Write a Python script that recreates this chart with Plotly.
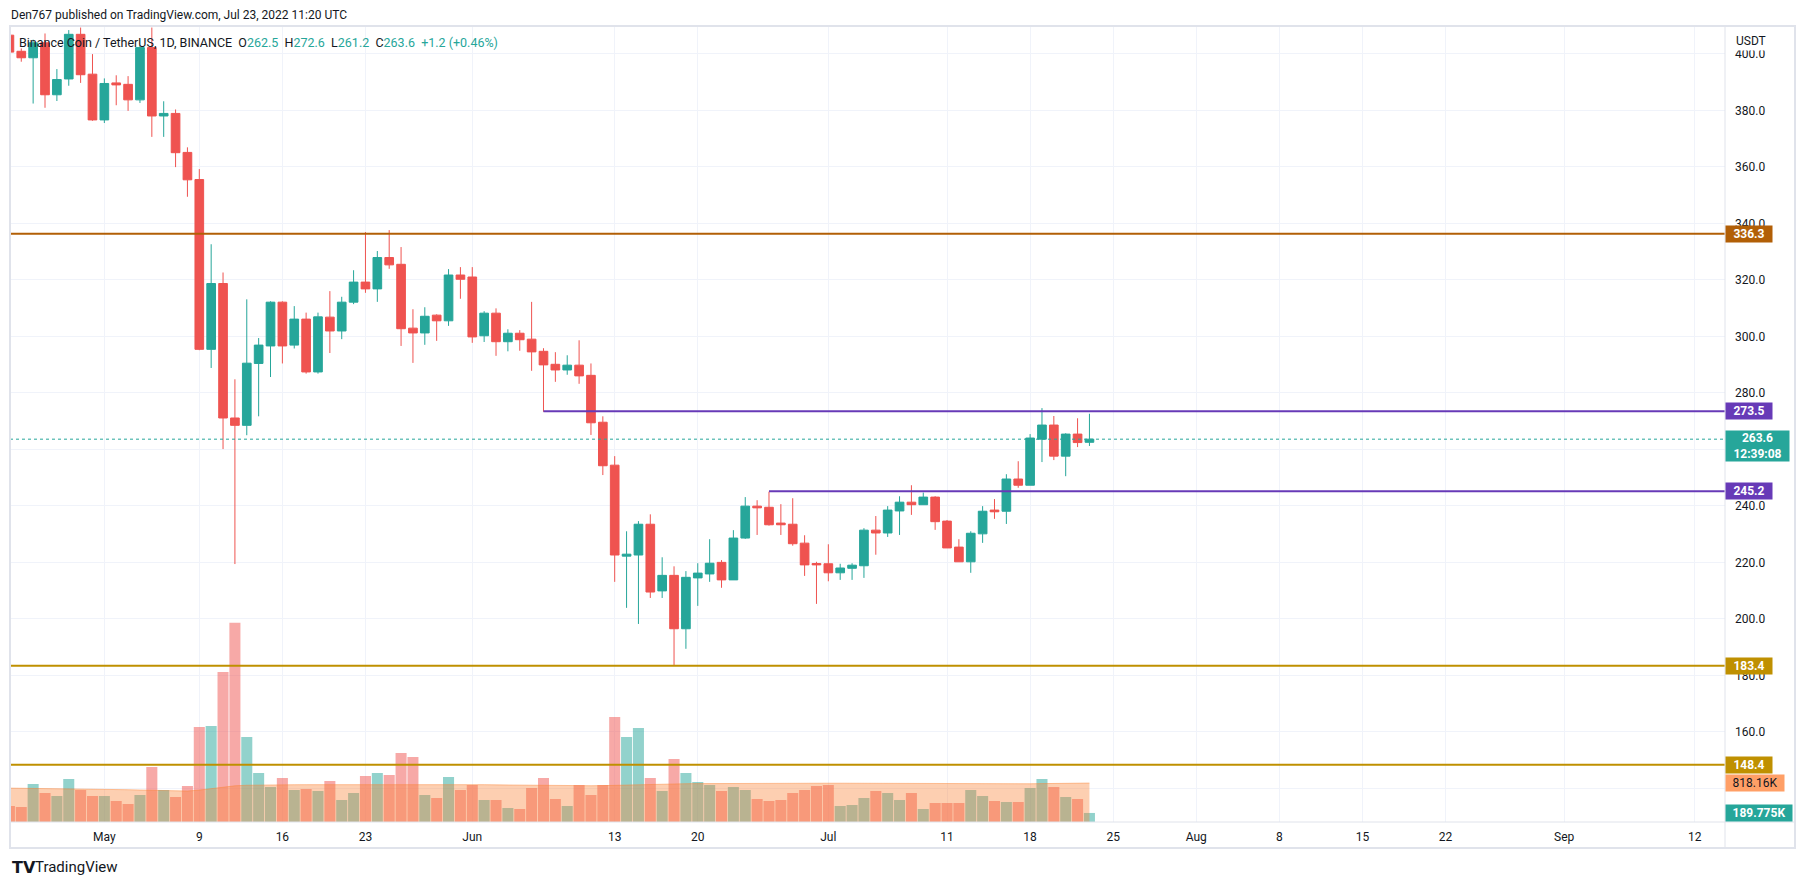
import pandas as pd
import plotly.graph_objects as go

# daily candles, 2022-04-23 .. 2022-07-23 (BNB/USDT, 1D)
dates = pd.date_range("2022-04-23", "2022-07-23", freq="D")

opens = [
    406.6, 400.9, 398.6, 403.9, 385.5, 391.1, 406.9, 392.8,
    376.6, 389.7, 389.2, 383.7, 402.2, 378.0, 378.9, 365.1,
    355.5, 295.4, 318.7, 271.1, 268.5, 290.4, 296.6, 312.1,
    296.9, 306.1, 287.4, 306.8, 301.9, 312.1, 319.2, 316.8,
    327.9, 325.5, 302.9, 301.2, 307.5, 305.5, 321.7,
    321.0, 300.2, 308.2, 298.1, 301.1, 299.0, 294.7, 290.1,
    288.1, 289.8, 286.2, 269.6, 254.4, 222.2, 222.6, 233.5,
    209.9, 215.4, 196.5, 214.5, 215.9, 220.0, 213.8, 228.6,
    239.9, 239.5, 233.9, 233.5, 226.8, 219.6,
    219.5, 216.3, 217.9, 218.8, 231.4, 230.4, 238.2, 241.3,
    240.4, 243.1, 234.6, 225.4, 220.2, 230.1, 238.5, 238.1,
    249.5, 247.3, 263.6, 268.6, 257.6, 265.4, 262.5,
]
highs = [
    410.0, 401.9, 405.0, 407.2, 394.6, 408.4, 409.3, 399.9,
    391.3, 392.4, 392.1, 403.0, 409.3, 383.2, 380.3, 366.9,
    359.2, 332.6, 322.6, 284.8, 313.1, 299.4, 312.4, 312.4,
    310.7, 308.4, 308.4, 316.0, 314.0, 323.4, 336.9, 330.2,
    337.6, 331.6, 309.6, 310.3, 307.8, 323.8, 324.5,
    324.5, 308.9, 309.9, 302.5, 302.2, 312.2, 295.8, 294.4,
    293.3, 298.6, 290.4, 271.7, 257.6, 231.0, 234.6, 237.0,
    221.8, 218.6, 216.9, 219.7, 228.2, 220.8, 231.4, 243.1,
    242.0, 245.0, 240.6, 242.7, 229.6, 220.2,
    226.4, 219.5, 219.7, 232.1, 236.4, 239.9, 243.4, 247.3,
    244.7, 243.4, 235.0, 228.2, 231.0, 239.9, 242.4, 251.2,
    255.8, 265.4, 274.6, 271.8, 265.7, 271.0, 272.6,
]
lows = [
    399.5, 397.2, 382.4, 380.9, 383.3, 388.7, 389.7, 376.3,
    375.5, 381.8, 379.8, 382.6, 370.6, 370.6, 359.9, 349.4,
    295.1, 288.8, 260.1, 219.4, 265.0, 271.7, 285.6, 290.4,
    295.7, 286.8, 286.8, 294.1, 299.0, 311.4, 315.4, 312.2,
    323.9, 296.6, 290.6, 297.0, 298.4, 303.7, 313.3,
    297.7, 298.0, 293.1, 294.7, 294.9, 287.8, 273.3, 283.9,
    286.4, 283.2, 265.1, 250.9, 213.1, 203.9, 198.2, 207.4,
    207.4, 183.6, 189.4, 204.6, 213.1, 211.0, 213.8, 228.3,
    229.7, 233.0, 229.7, 225.9, 215.2, 205.3,
    213.3, 213.8, 213.8, 214.5, 222.7, 229.0, 229.7, 236.8,
    240.4, 231.5, 225.1, 220.2, 216.3, 226.9, 235.4, 233.6,
    246.4, 247.3, 255.5, 256.2, 250.5, 260.8, 261.2,
]
closes = [
    400.6, 398.6, 403.9, 385.5, 390.9, 406.9, 392.6, 376.6,
    389.5, 389.0, 383.7, 402.2, 378.0, 378.9, 365.0, 355.4,
    295.4, 318.7, 271.1, 268.5, 290.5, 296.9, 312.1, 296.6,
    306.1, 287.4, 306.9, 301.9, 312.1, 319.2, 316.8, 327.9,
    325.3, 302.7, 301.2, 307.1, 305.5, 321.7, 320.2,
    299.8, 308.2, 298.1, 301.1, 298.8, 294.5, 289.9, 288.1,
    289.8, 286.0, 269.4, 254.2, 222.6, 222.9, 233.5, 209.5,
    215.4, 196.5, 214.7, 216.2, 219.7, 213.8, 228.6, 239.9,
    239.3, 233.3, 233.3, 226.6, 219.1, 219.1,
    216.3, 218.0, 219.0, 231.4, 230.4, 238.5, 241.3, 240.4,
    243.1, 234.4, 225.1, 220.2, 230.3, 238.1, 237.9, 249.5,
    247.3, 264.0, 268.6, 257.6, 265.4, 262.4, 263.6,
]
# volume in thousands of BNB
volume = [
    336, 315, 798, 609, 546, 903, 672, 546,
    546, 441, 378, 567, 1155, 672, 525, 756,
    1995, 2016, 3150, 4186, 1785, 1029, 735, 924,
    672, 693, 651, 861, 462, 609, 966, 1029,
    987, 1449, 1365, 567, 504, 945, 672,
    777, 462, 462, 294, 273, 714, 924, 483,
    336, 777, 567, 777, 2205, 1785, 1974, 924,
    651, 1323, 1029, 840, 777, 651, 735, 672,
    483, 441, 462, 609, 672, 756,
    777, 336, 357, 504, 651, 609, 462, 609,
    273, 399, 399, 399, 672, 546, 441, 420,
    420, 714, 903, 735, 525, 483, 189.775,
]
volume_ma = [
    712, 710, 708, 706, 704, 700, 698, 694,
    690, 684, 678, 672, 666, 660, 652, 650,
    670, 700, 735, 760, 772, 778, 780, 782,
    783, 784, 785, 786, 786, 787, 788, 789,
    790, 792, 793, 792, 790, 789, 788,
    786, 784, 780, 776, 772, 770, 768, 766,
    764, 762, 762, 764, 772, 780, 788, 792,
    796, 800, 804, 806, 808, 810, 810, 811,
    812, 812, 812, 813, 813, 814,
    815, 815, 814, 812, 810, 808, 806, 804,
    802, 800, 798, 797, 796, 796, 797, 798,
    800, 803, 806, 808, 811, 814, 818.16,
]

tick_dates = ["2022-05-01", "2022-05-09", "2022-05-16", "2022-05-23", "2022-06-01",
              "2022-06-13", "2022-06-20", "2022-07-01", "2022-07-11", "2022-07-18",
              "2022-07-25", "2022-08-01", "2022-08-08", "2022-08-15", "2022-08-22",
              "2022-09-01", "2022-09-12"]
tick_text = ["May", "9", "16", "23", "Jun", "13", "20", "Jul", "11", "18", "25",
             "Aug", "8", "15", "22", "Sep", "12"]

price_ticks = [140, 160, 180, 200, 220, 240, 260, 280, 300, 320, 340, 360, 380, 400]
hidden_ticks = [140, 260]  # covered by the price / volume tags

levels = [336.3, 273.5, 245.2, 183.4, 148.4]
level_colors = ["#b25f06", "#673ab7", "#673ab7", "#bf9000", "#bf9000"]
level_start = [None, "2022-06-07", "2022-06-26", None, None]

last_price = 263.6

UP = "#26a69a"
DOWN = "#ef5350"
TEXT = "#131722"
GRID = "#f0f3fa"
FRAME = "#e0e3eb"

# plot area in pixels
L, R, T, B = 10, 1725, 25, 822


def px(x):
    return (x - L) / (R - L)


def py(y):
    return (B - y) / (B - T)


up_day = [c >= o for o, c in zip(opens, closes)]
bar_colors = ["rgba(38,166,154,0.5)" if u else "rgba(239,83,80,0.5)" for u in up_day]

fig = go.Figure()

fig.add_trace(
    go.Candlestick(
        x=dates,
        open=opens,
        high=highs,
        low=lows,
        close=closes,
        increasing=dict(line=dict(color=UP, width=1), fillcolor=UP),
        decreasing=dict(line=dict(color=DOWN, width=1), fillcolor=DOWN),
        whiskerwidth=0,
        hoverinfo="skip",
        showlegend=False,
    )
)

fig.add_trace(
    go.Bar(
        x=dates,
        y=volume,
        yaxis="y2",
        marker=dict(color=bar_colors, line=dict(width=0)),
        width=0.93 * 86400000,
        hoverinfo="skip",
        showlegend=False,
    )
)

fig.add_trace(
    go.Scatter(
        x=dates,
        y=volume_ma,
        yaxis="y2",
        mode="lines",
        fill="tozeroy",
        fillcolor="rgba(250,130,50,0.38)",
        line=dict(color="rgba(250,130,50,0.45)", width=1),
        hoverinfo="skip",
        showlegend=False,
    )
)

shapes = []
for lvl, col, start in zip(levels, level_colors, level_start):
    if start is None:
        shapes.append(dict(type="line", xref="paper", yref="y", x0=0, x1=1,
                           y0=lvl, y1=lvl, line=dict(color=col, width=2)))
    else:
        shapes.append(dict(type="line", xref="x", yref="y", x0=start, x1="2022-09-14 13:12",
                           y0=lvl, y1=lvl, line=dict(color=col, width=2)))

shapes.append(dict(type="line", xref="paper", yref="y", x0=0, x1=1, y0=last_price,
                   y1=last_price, line=dict(color=UP, width=1, dash="dot")))

# chart frame and axis separators
shapes.append(dict(type="rect", xref="paper", yref="paper", x0=px(10), x1=px(1795),
                   y0=py(848), y1=py(26), line=dict(color=FRAME, width=2)))
shapes.append(dict(type="line", xref="paper", yref="paper", x0=1, x1=1,
                   y0=py(848), y1=py(26), line=dict(color=FRAME, width=1)))
shapes.append(dict(type="line", xref="paper", yref="paper", x0=0, x1=px(1795),
                   y0=0, y1=0, line=dict(color=FRAME, width=1)))

annotations = [
    dict(xref="paper", yref="paper", x=px(9), y=py(15), xanchor="left", yanchor="middle",
         text="Den767 published on TradingView.com, Jul 23, 2022 11:20 UTC",
         showarrow=False, font=dict(size=12, color=TEXT)),
    dict(xref="paper", yref="paper", x=px(17), y=py(42), xanchor="left", yanchor="middle",
         text=("Binance Coin / TetherUS, 1D, BINANCE&nbsp;&nbsp;"
               f"O<span style='color:{UP}'>262.5</span>&nbsp;&nbsp;"
               f"H<span style='color:{UP}'>272.6</span>&nbsp;&nbsp;"
               f"L<span style='color:{UP}'>261.2</span>&nbsp;&nbsp;"
               f"C<span style='color:{UP}'>263.6</span>&nbsp;&nbsp;"
               f"<span style='color:{UP}'>+1.2 (+0.46%)</span>"),
         showarrow=False, font=dict(size=12.5, color=TEXT)),
    dict(xref="paper", yref="paper", x=px(1733), y=py(41), xanchor="left", yanchor="middle",
         text="USDT", showarrow=False, bgcolor="white", borderpad=2,
         font=dict(size=12, color=TEXT)),
    dict(xref="paper", yref="paper", x=px(10), y=py(867), xanchor="left", yanchor="middle",
         text="<b>TV</b>", showarrow=False,
         font=dict(size=16, color=TEXT, family="DejaVu Sans")),
    dict(xref="paper", yref="paper", x=px(33), y=py(867), xanchor="left", yanchor="middle",
         text="TradingView", showarrow=False, font=dict(size=15, color=TEXT)),
]


def tag(y, text, bg, fg="white", yref="y", width=42, height=12, bold=True, yshift=0):
    return dict(xref="paper", yref=yref, x=1, y=y, xanchor="left", yanchor="middle",
                text=f"<b>{text}</b>" if bold else text, showarrow=False,
                bgcolor=bg, borderpad=2, width=width, height=height, align="center",
                yshift=yshift, font=dict(size=12, color=fg))


for lvl, col in zip(levels, level_colors):
    annotations.append(tag(lvl, f"{lvl:.1f}", col))
annotations.append(tag(last_price, "263.6<br>12:39:08", UP, width=59, height=26, yshift=-7))
annotations.append(tag(volume_ma[-1], "818.16K", "#ff9f66", fg=TEXT, yref="y2",
                       width=54, bold=False))
annotations.append(tag(volume[-1], "189.775K", UP, yref="y2", width=62))

fig.update_layout(
    width=1805,
    height=885,
    margin=dict(l=L, r=1805 - R, t=T, b=885 - B),
    paper_bgcolor="white",
    plot_bgcolor="white",
    font=dict(family="Roboto, 'Noto Sans', sans-serif", size=12, color=TEXT),
    showlegend=False,
    boxgap=0.27,
    boxgroupgap=0,
    shapes=shapes,
    annotations=annotations,
    xaxis=dict(
        type="date",
        range=["2022-04-23 01:12", "2022-09-14 13:12"],
        rangeslider=dict(visible=False),
        tickvals=tick_dates,
        ticktext=tick_text,
        showgrid=True,
        gridcolor=GRID,
        gridwidth=1,
        zeroline=False,
        showline=False,
        ticks="",
        ticklabelstandoff=6,
        tickfont=dict(size=12, color=TEXT),
    ),
    yaxis=dict(
        side="right",
        range=[128.1, 410.2],
        tickvals=price_ticks,
        ticktext=["" if v in hidden_ticks else f"{v:.1f}" for v in price_ticks],
        showgrid=True,
        gridcolor=GRID,
        gridwidth=1,
        zeroline=False,
        showline=False,
        ticks="",
        ticklabelstandoff=9,
        tickfont=dict(size=12, color=TEXT),
    ),
    yaxis2=dict(
        overlaying="y",
        range=[0, 16737],
        visible=False,
        showgrid=False,
    ),
)

# the page body has an 8px default margin; drop it so the figure sits at the corner
fig.write_html(
    "out.html",
    config={"displayModeBar": False},
    post_script="document.body.style.margin='0';",
)
